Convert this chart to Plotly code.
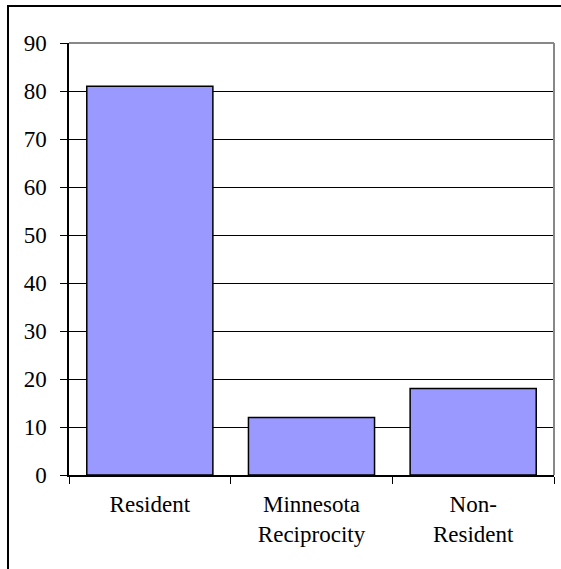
import plotly.graph_objects as go

# Student residency breakdown
categories = ["Resident", "Minnesota<br>Reciprocity", "Non-<br>Resident"]
values = [81, 12, 18]
y_ticks = [0, 10, 20, 30, 40, 50, 60, 70, 80, 90]

W, H = 561, 569
L, R, T, B = 69, 7, 43, 94
pw, ph = W - L - R, H - T - B

fig = go.Figure(
    go.Bar(
        x=categories,
        y=values,
        marker=dict(color="#9999FF", line=dict(color="black", width=1.5)),
        width=0.78,
    )
)

font = dict(family="Liberation Serif", size=23, color="black")

fig.update_layout(
    width=W,
    height=H,
    margin=dict(l=L, r=R, t=T, b=B, pad=0),
    paper_bgcolor="white",
    plot_bgcolor="white",
    showlegend=False,
    font=font,
    xaxis=dict(
        showline=True, linecolor="black", linewidth=1.5,
        ticks="outside", ticklen=7, tickcolor="black", tickwidth=1,
        tickson="boundaries", showgrid=False,
        tickfont=font, ticklabelstandoff=8,
    ),
    yaxis=dict(
        range=[0, 90], tickvals=y_ticks,
        showline=True, linecolor="black", linewidth=1.5,
        ticks="outside", ticklen=7, tickcolor="black", tickwidth=1,
        showgrid=True, gridcolor="black", gridwidth=1,
        zeroline=False, tickfont=font, ticklabelstandoff=9,
    ),
    shapes=[
        # plot area border (top and right, gray)
        dict(type="line", xref="paper", yref="paper", x0=0, x1=1, y0=1, y1=1,
             line=dict(color="#888888", width=2), layer="above"),
        dict(type="line", xref="paper", yref="paper", x0=1, x1=1, y0=0, y1=1,
             line=dict(color="#888888", width=2), layer="above"),
        # chart area border
        dict(type="rect", xref="paper", yref="paper",
             x0=(8 - L) / pw, x1=(W + 5 - L) / pw,
             y0=-(H + 5 - T - ph) / ph, y1=1 + (T - 6) / ph,
             line=dict(color="black", width=2), layer="above"),
    ],
)

fig.write_html("out.html")
